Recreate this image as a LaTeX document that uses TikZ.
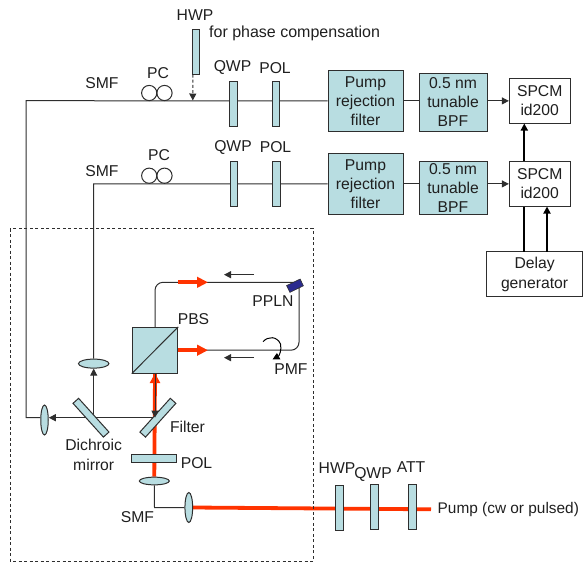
\documentclass[tikz,border=0pt]{standalone}
\usepackage{fontspec}
\setmainfont{Liberation Sans}
\usetikzlibrary{arrows.meta,shapes.geometric,backgrounds,calc}
\definecolor{ink}{HTML}{2E2E2E}
\definecolor{plateblue}{HTML}{B8DDE1}
\definecolor{beam}{HTML}{FF3300}
\definecolor{crystal}{HTML}{2B2B8F}
\tikzset{
  lab/.style={inner sep=0pt,font=\fontsize{15.7}{19.5}\selectfont,text=black!88,align=center},
  fib/.style={draw=ink,line width=1pt},
  arr/.style={fib,-{Triangle[length=7pt,width=7pt]}},
  thick arr/.style={draw=black,line width=1.7pt},
  redbeam/.style={draw=beam,line width=3.8pt},
  redarr/.style={redbeam,-{Triangle[length=11pt,width=10.5pt]}},
  plate/.style={draw=ink,fill=plateblue,line width=1pt,inner sep=0pt,rectangle,minimum width=7.5pt,minimum height=45pt},
  hplate/.style={draw=ink,fill=plateblue,line width=1pt,inner sep=0pt,rectangle,minimum width=45pt,minimum height=8pt},
  bluebox/.style={draw=ink,fill=plateblue,line width=1pt,inner sep=0pt,rectangle,font=\fontsize{15.7}{19}\selectfont,text=black!88,align=center},
  whitebox/.style={draw=ink,fill=white,line width=1pt,inner sep=0pt,rectangle,font=\fontsize{15.7}{19.5}\selectfont,text=black!88,align=center},
  lens/.style={draw=ink,fill=plateblue,line width=1pt,inner sep=0pt,ellipse},
  coil/.style={draw=ink,line width=1pt,circle,inner sep=0pt,minimum size=15.2pt},
}
\begin{document}
\begin{tikzpicture}[x=1pt,y=-1pt]
\useasboundingbox (0,0) rectangle (583,563);
% dashed enclosure
\coordinate (boxTL) at (10,228.5);
\coordinate (boxBR) at (313,561);
\draw[draw=ink,line width=1pt,dash pattern=on 3pt off 2.5pt] (boxTL) rectangle (boxBR);

% upper arm
\node[plate,minimum height=45pt] (hwpA) at (195.75,51.5) {};
\node[plate] (qwpA) at (233.5,104) {};
\node[plate] (polA) at (276.2,104) {};
\node[bluebox,minimum width=75pt,minimum height=60.5pt] (rejA) at (365.5,100.9) {Pump\\rejection\\filter};
\node[bluebox,minimum width=68pt,minimum height=57.7pt] (bpfA) at (453,102.2) {0.5 nm\\tunable\\BPF};
\node[whitebox,minimum width=60.7pt,minimum height=45pt] (spcmA) at (539.7,100.5) {SPCM\\id200};
\node[coil] (pcA1) at (149.2,93) {};
\node[coil] (pcA2) at (164.5,93) {};

% lower arm
\node[plate] (qwpB) at (234.2,183.5) {};
\node[plate] (polB) at (276.5,183.5) {};
\node[bluebox,minimum width=75pt,minimum height=60.5pt] (rejB) at (365.5,183.9) {Pump\\rejection\\filter};
\node[bluebox,minimum width=68pt,minimum height=52.3pt] (bpfB) at (453,187.9) {0.5 nm\\tunable\\BPF};
\node[whitebox,minimum width=60.7pt,minimum height=45pt] (spcmB) at (539.7,183.5) {SPCM\\id200};
\node[coil] (pcB1) at (149.2,175.7) {};
\node[coil] (pcB2) at (164.5,175.7) {};
\node[whitebox,minimum width=96pt,minimum height=45pt] (delay) at (534.6,274.2) {Delay\\generator};

% Sagnac loop
\node[bluebox,minimum width=45.4pt,minimum height=45.7pt] (pbs) at (155,350.2) {};
\node[draw=ink,fill=crystal,line width=.6pt,inner sep=0pt,rectangle,minimum width=15pt,minimum height=7.5pt,rotate=26] (ppln) at (295,285.7) {};
\node[lens,minimum width=30.5pt,minimum height=9pt] (lensB) at (93.7,363.6) {};
\node[lens,minimum width=7.5pt,minimum height=30pt] (lensA) at (44.5,420) {};
\node[plate,minimum width=45.4pt,minimum height=7.5pt,rotate=-48] (dichroic) at (91,417.7) {};
\node[plate,minimum width=45.4pt,minimum height=7.5pt,rotate=48] (filter) at (157.9,417.7) {};
\node[hplate] (polC) at (154.2,458.3) {};
\node[lens,minimum width=30pt,minimum height=7.7pt] (lensC) at (154.3,481) {};
\node[lens,minimum width=7.7pt,minimum height=30pt] (lensD) at (188.8,507.5) {};

% pump line
\node[plate] (hwpP) at (339.5,508.3) {};
\node[plate] (qwpP) at (374.7,507.2) {};
\node[plate] (att) at (412.3,507.2) {};
\node[lab,anchor=west,font=\fontsize{15.4}{19}\selectfont] (pump) at (437.5,510) {Pump (cw or pulsed)};

% free ends and corners
\coordinate (tipHWP) at (192.8,100.5);
\coordinate (cornerA) at (26,100.7);
\coordinate (junc) at (155,417.7);
\coordinate (cornerAb) at (26,417.7);
\coordinate (mjB) at (93.7,417.7);
\coordinate (cornerB) at (93.7,183.8);
\coordinate (loopTL) at (155,282.3);
\coordinate (loopTR) at (299,282.3);
\coordinate (loopBR) at (299,350.2);
\coordinate (pumpEnd) at (431,509.3);
\coordinate (redTop) at (208,282.3);
\coordinate (redBot) at (208,350.2);
\coordinate (cornerD) at (154.5,507.5);

\begin{scope}[on background layer]
  \draw[fib] (rejA.west) -- (cornerA) -- (cornerAb) -- (lensA.west |- cornerAb);
  \draw[fib] (rejB.west) -- (cornerB) -- (lensB.north);
  \draw[fib] (lensC.south) -- (cornerD) -- (lensD.west);
  \draw[fib] (rejA.east) -- (rejA.east -| bpfA.west);
  \draw[fib] (rejB.east) -- (rejB.east -| bpfB.west);
  \draw[fib,rounded corners=8pt] (pbs.north) -- (loopTL) -- (loopTL -| ppln.center);
  \draw[fib,rounded corners=8pt] (pbs.east) -- (loopBR) -- (299,288);
  \draw[redbeam] (lensD.east) -- (pumpEnd);
  \draw[redbeam] (lensC.north) -- (pbs.south);
  \draw[fib] (mjB) -- (mjB -| dichroic.center);
  \draw[arr] (junc) -- (lensA.east |- junc);
  \draw[arr] (mjB) -- (lensB.south);
\end{scope}
\draw[draw=beam,fill=beam,-{Triangle[length=9.5pt,width=10.5pt]},line width=1pt] ($(pbs.south)+(0,9)$) -- (pbs.south);
\draw[redarr] (pbs.east) -- (redBot);
\draw[redarr] (loopTL -| pbs.east) -- (redTop);
\draw[arr] (pbs.south) -- (junc);

% detector arrows
\draw[arr] (bpfA.east |- rejA.east) -- (spcmA.west |- rejA.east);
\draw[arr] (bpfB.east |- rejB.east) -- (spcmB.west |- rejB.east);
\coordinate (delayA) at (524.3,251.7);
\coordinate (delayB) at (547,251.7);
\draw[thick arr,-{Triangle[length=7pt,width=7pt]}] (spcmB.north -| delayA) -- (spcmA.south -| delayA);
\draw[thick arr] (delayA) -- (spcmB.south -| delayA);
\draw[thick arr,-{Triangle[length=7pt,width=7pt]}] (delayB) -- (spcmB.south -| delayB);

% HWP insert
\draw[draw=ink,line width=1pt,dash pattern=on 3pt off 2.2pt,-{Triangle[length=7pt,width=7pt]}] ($(hwpA.south)+(-2.9,0)$) -- (tipHWP);

% small direction arrows
\coordinate (sAs) at (254,274.7);
\coordinate (sAe) at (224,274.7);
\coordinate (sBs) at (254,357.7);
\coordinate (sBe) at (224,357.7);
\draw[arr,draw=ink] (sAs) -- (sAe);
\draw[arr,draw=ink] (sBs) -- (sBe);
% PMF twist
\draw[arr,draw=black] (263,341.7) .. controls (268,336) and (277,336) .. (280.5,344) .. controls (282,350) and (279,356) .. (272.5,359.5);

% labels
\node[lab] (tHWP) at (195,15.5) {HWP};
\node[lab,anchor=west,font=\fontsize{16}{19}\selectfont] (tcomp) at (209,33) {for phase compensation};
\node[lab] (tSMFa) at (102,83.5) {SMF};
\node[lab] (tPCa) at (158,72.7) {PC};
\node[lab] (tQa) at (232.5,67.7) {QWP};
\node[lab] (tPa) at (275,67.7) {POL};
\node[lab] (tSMFb) at (102,171) {SMF};
\node[lab] (tPCb) at (159,155.5) {PC};
\node[lab] (tQb) at (233,147) {QWP};
\node[lab] (tPb) at (275.5,147) {POL};
\node[lab] (tPPLN) at (273,301) {PPLN};
\node[lab] (tPBS) at (193.5,319) {PBS};
\node[lab] (tPMF) at (291,369) {PMF};
\node[lab] (tFilter) at (187.5,426.7) {Filter};
\node[lab] (tDich) at (93.7,455) {Dichroic\\mirror};
\node[lab] (tPOLc) at (196.5,463.3) {POL};
\node[lab] (tSMFc) at (137.5,516.7) {SMF};
\node[lab] (tHWPp) at (337,468) {HWP};
\node[lab] (tQWPp) at (373,474.5) {QWP};
\node[lab] (tATT) at (411,467) {ATT};
% splitter diagonal
\draw[draw=ink,line width=1pt] (pbs.south west) -- (pbs.north east);
\end{tikzpicture}
\end{document}
